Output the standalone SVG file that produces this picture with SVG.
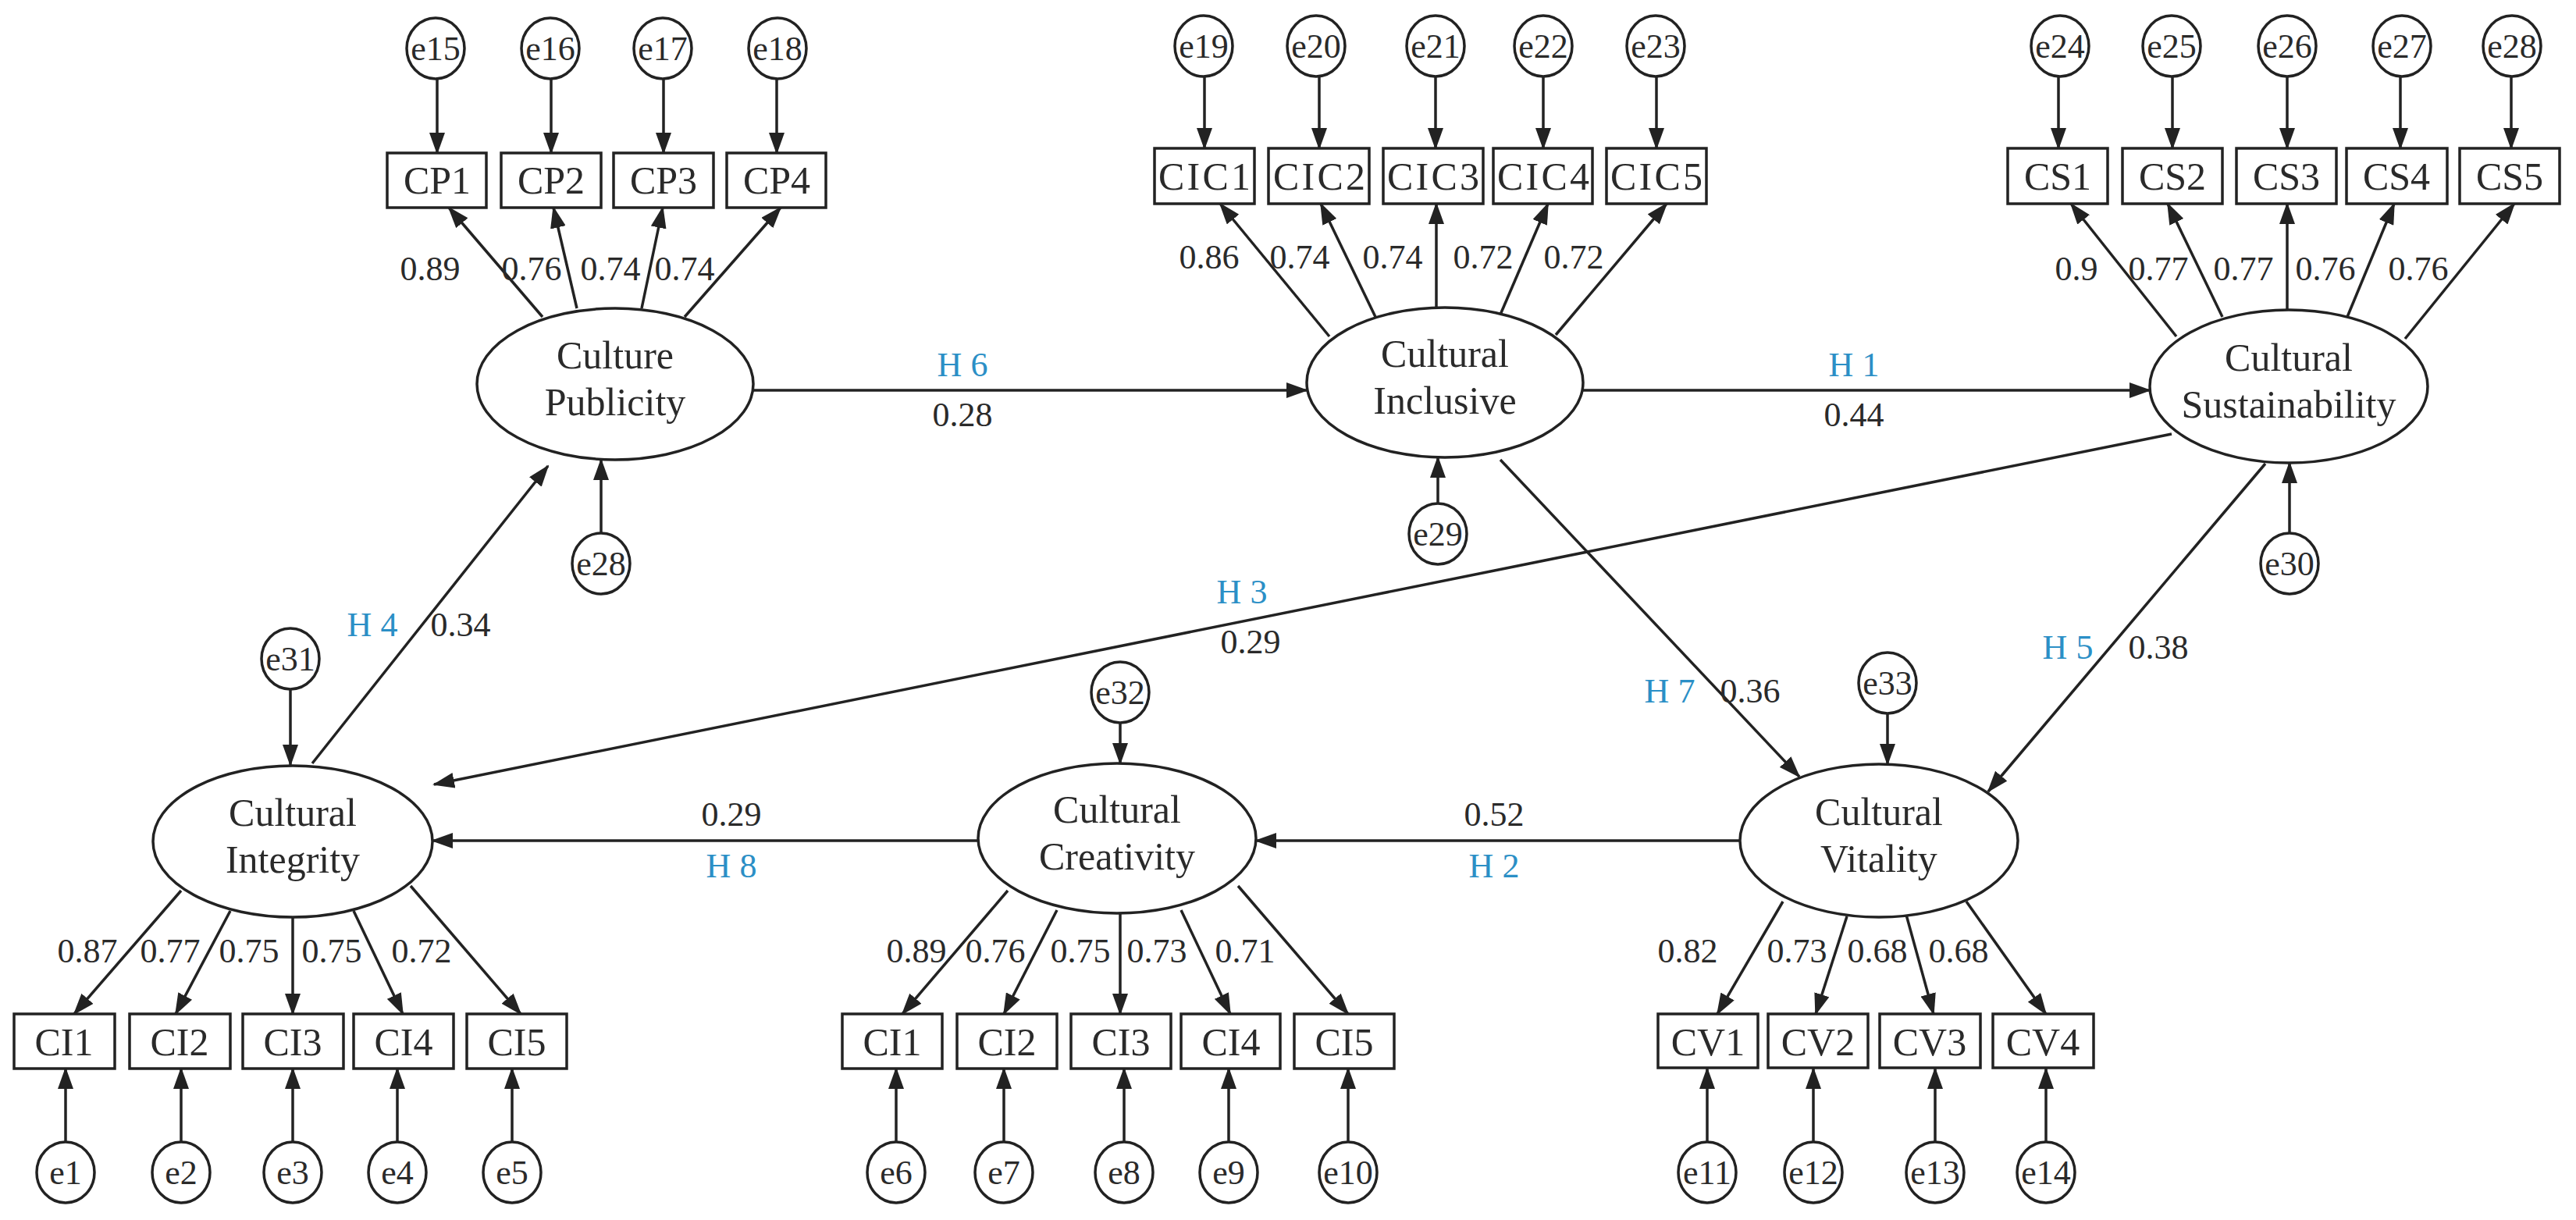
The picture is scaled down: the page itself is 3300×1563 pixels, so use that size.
<svg xmlns="http://www.w3.org/2000/svg" width="3300" height="1563" viewBox="0 0 3300 1563">
<style>
.n{fill:#fff;stroke:#222;stroke-width:3.5}
.t{font-family:"Liberation Serif",serif;font-size:50px;fill:#2a2a2a;text-anchor:middle}
.e{font-family:"Liberation Serif",serif;font-size:44px;fill:#2a2a2a;text-anchor:middle}
.v{font-family:"Liberation Serif",serif;font-size:44px;fill:#2a2a2a;text-anchor:middle}
.h{font-family:"Liberation Serif",serif;font-size:44px;fill:#2b8fc6;text-anchor:middle}
.c line{stroke:#222;stroke-width:3.5;marker-end:url(#a)}
</style>
<defs><marker id="a" markerUnits="userSpaceOnUse" markerWidth="28" markerHeight="20" refX="26" refY="10" orient="auto"><path d="M0,0 L28,10 L0,20 Z" fill="#222"/></marker></defs>
<rect width="3300" height="1563" fill="#fff"/>
<g class="c" id="connectors">
<!-- top error arrows -->
<line x1="560" y1="100" x2="560" y2="196"/><line x1="706" y1="100" x2="706" y2="196"/><line x1="850" y1="100" x2="850" y2="196"/><line x1="995" y1="100" x2="995" y2="196"/>
<line x1="1543" y1="98" x2="1543" y2="190"/><line x1="1690" y1="98" x2="1690" y2="190"/><line x1="1839" y1="98" x2="1839" y2="190"/><line x1="1977" y1="98" x2="1977" y2="190"/><line x1="2122" y1="98" x2="2122" y2="190"/>
<line x1="2637" y1="98" x2="2637" y2="190"/><line x1="2783" y1="98" x2="2783" y2="190"/><line x1="2930" y1="98" x2="2930" y2="190"/><line x1="3075" y1="98" x2="3075" y2="190"/><line x1="3217" y1="98" x2="3217" y2="190"/>
<!-- CP loadings -->
<line x1="695" y1="406" x2="575" y2="266"/><line x1="739" y1="395" x2="709" y2="266"/><line x1="822" y1="395" x2="849" y2="266"/><line x1="877" y1="406" x2="1000" y2="266"/>
<!-- CIC loadings -->
<line x1="1703" y1="431" x2="1563" y2="261"/><line x1="1763" y1="408" x2="1692" y2="261"/><line x1="1840" y1="394" x2="1840" y2="261"/><line x1="1922" y1="403" x2="1983" y2="261"/><line x1="1993" y1="429" x2="2135" y2="261"/>
<!-- CS loadings -->
<line x1="2788" y1="431" x2="2653" y2="261"/><line x1="2847" y1="406" x2="2777" y2="261"/><line x1="2930" y1="397" x2="2930" y2="261"/><line x1="3007" y1="406" x2="3067" y2="261"/><line x1="3081" y1="434" x2="3221" y2="261"/>
<!-- structural -->
<line x1="965" y1="500" x2="1674" y2="500"/>
<line x1="2028" y1="500" x2="2754" y2="500"/>
<line x1="2782" y1="556" x2="556" y2="1005"/>
<line x1="1922" y1="589" x2="2305" y2="995"/>
<line x1="2902" y1="594" x2="2547" y2="1014"/>
<line x1="400" y1="978" x2="702" y2="597"/>
<line x1="2228" y1="1077" x2="1609" y2="1077"/>
<line x1="1253" y1="1077" x2="554" y2="1077"/>
<!-- latent errors -->
<line x1="770" y1="684" x2="770" y2="589"/><line x1="1842" y1="646" x2="1842" y2="586"/><line x1="2933" y1="684" x2="2933" y2="593"/>
<line x1="372" y1="882" x2="372" y2="980"/><line x1="1435" y1="925" x2="1435" y2="978"/><line x1="2418" y1="913" x2="2418" y2="979"/>
<!-- CI loadings -->
<line x1="232" y1="1141" x2="95" y2="1299"/><line x1="295" y1="1167" x2="225" y2="1299"/><line x1="375" y1="1175" x2="375" y2="1299"/><line x1="453" y1="1167" x2="516" y2="1299"/><line x1="526" y1="1135" x2="667" y2="1299"/>
<!-- creativity loadings -->
<line x1="1291" y1="1141" x2="1156" y2="1299"/><line x1="1354" y1="1166" x2="1286" y2="1299"/><line x1="1435" y1="1170" x2="1435" y2="1299"/><line x1="1513" y1="1166" x2="1576" y2="1299"/><line x1="1586" y1="1135" x2="1727" y2="1299"/>
<!-- vitality loadings -->
<line x1="2284" y1="1155" x2="2200" y2="1299"/><line x1="2366" y1="1174" x2="2326" y2="1299"/><line x1="2442" y1="1172" x2="2477" y2="1299"/><line x1="2519" y1="1155" x2="2621" y2="1299"/>
<!-- bottom errors -->
<line x1="84" y1="1463" x2="84" y2="1369"/><line x1="232" y1="1463" x2="232" y2="1369"/><line x1="375" y1="1463" x2="375" y2="1369"/><line x1="509" y1="1463" x2="509" y2="1369"/><line x1="656" y1="1463" x2="656" y2="1369"/>
<line x1="1148" y1="1463" x2="1148" y2="1369"/><line x1="1286" y1="1463" x2="1286" y2="1369"/><line x1="1440" y1="1463" x2="1440" y2="1369"/><line x1="1574" y1="1463" x2="1574" y2="1369"/><line x1="1727" y1="1463" x2="1727" y2="1369"/>
<line x1="2187" y1="1463" x2="2187" y2="1369"/><line x1="2323" y1="1463" x2="2323" y2="1369"/><line x1="2479" y1="1463" x2="2479" y2="1369"/><line x1="2621" y1="1463" x2="2621" y2="1369"/>
</g>
<g id="labels">
<text class="v" x="551" y="359">0.89</text><text class="v" x="681" y="359">0.76</text><text class="v" x="782" y="359">0.74</text><text class="v" x="877" y="359">0.74</text>
<text class="v" x="1549" y="344">0.86</text><text class="v" x="1665" y="344">0.74</text><text class="v" x="1784" y="344">0.74</text><text class="v" x="1900" y="344">0.72</text><text class="v" x="2016" y="344">0.72</text>
<text class="v" x="2660" y="359">0.9</text><text class="v" x="2765" y="359">0.77</text><text class="v" x="2874" y="359">0.77</text><text class="v" x="2979" y="359">0.76</text><text class="v" x="3098" y="359">0.76</text>
<text class="h" x="1233" y="482">H 6</text><text class="v" x="1233" y="546">0.28</text>
<text class="h" x="2375" y="482">H 1</text><text class="v" x="2375" y="546">0.44</text>
<text class="h" x="477" y="815">H 4</text><text class="v" x="590" y="815">0.34</text>
<text class="h" x="1591" y="773">H 3</text><text class="v" x="1602" y="837">0.29</text>
<text class="h" x="2139" y="900">H 7</text><text class="v" x="2242" y="900">0.36</text>
<text class="h" x="2649" y="844">H 5</text><text class="v" x="2765" y="844">0.38</text>
<text class="v" x="937" y="1058">0.29</text><text class="h" x="937" y="1124">H 8</text>
<text class="v" x="1914" y="1058">0.52</text><text class="h" x="1914" y="1124">H 2</text>
<text class="v" x="112" y="1233">0.87</text><text class="v" x="218" y="1233">0.77</text><text class="v" x="319" y="1233">0.75</text><text class="v" x="425" y="1233">0.75</text><text class="v" x="540" y="1233">0.72</text>
<text class="v" x="1174" y="1233">0.89</text><text class="v" x="1275" y="1233">0.76</text><text class="v" x="1384" y="1233">0.75</text><text class="v" x="1482" y="1233">0.73</text><text class="v" x="1595" y="1233">0.71</text>
<text class="v" x="2162" y="1233">0.82</text><text class="v" x="2302" y="1233">0.73</text><text class="v" x="2405" y="1233">0.68</text><text class="v" x="2509" y="1233">0.68</text>
</g>
<!-- latent nodes -->
<g id="CulturePublicity"><ellipse class="n" cx="788" cy="492" rx="177" ry="97"/><text class="t" x="788" y="472">Culture</text><text class="t" x="788" y="532">Publicity</text></g>
<g id="CulturalInclusive"><ellipse class="n" cx="1851" cy="490" rx="177" ry="96"/><text class="t" x="1851" y="470">Cultural</text><text class="t" x="1851" y="530">Inclusive</text></g>
<g id="CulturalSustainability"><ellipse class="n" cx="2932" cy="495" rx="178" ry="98"/><text class="t" x="2932" y="475">Cultural</text><text class="t" x="2932" y="535">Sustainability</text></g>
<g id="CulturalIntegrity"><ellipse class="n" cx="375" cy="1078" rx="179" ry="97"/><text class="t" x="375" y="1058">Cultural</text><text class="t" x="375" y="1118">Integrity</text></g>
<g id="CulturalCreativity"><ellipse class="n" cx="1431" cy="1074" rx="178" ry="96"/><text class="t" x="1431" y="1054">Cultural</text><text class="t" x="1431" y="1114">Creativity</text></g>
<g id="CulturalVitality"><ellipse class="n" cx="2407" cy="1077" rx="178" ry="98"/><text class="t" x="2407" y="1057">Cultural</text><text class="t" x="2407" y="1117">Vitality</text></g>
<!-- observed boxes -->
<g id="CP1"><rect class="n" x="496" y="196" width="127" height="70"/><text class="t" x="560" y="248">CP1</text></g>
<g id="CP2"><rect class="n" x="642" y="196" width="128" height="70"/><text class="t" x="706" y="248">CP2</text></g>
<g id="CP3"><rect class="n" x="786" y="196" width="128" height="70"/><text class="t" x="850" y="248">CP3</text></g>
<g id="CP4"><rect class="n" x="931" y="196" width="127" height="70"/><text class="t" x="995" y="248">CP4</text></g>
<g id="CIC1"><rect class="n" x="1479" y="190" width="128" height="71"/><text class="t" x="1543" y="243" textLength="118">CIC1</text></g>
<g id="CIC2"><rect class="n" x="1625" y="190" width="129" height="71"/><text class="t" x="1690" y="243" textLength="118">CIC2</text></g>
<g id="CIC3"><rect class="n" x="1772" y="190" width="128" height="71"/><text class="t" x="1836" y="243" textLength="118">CIC3</text></g>
<g id="CIC4"><rect class="n" x="1913" y="190" width="127" height="71"/><text class="t" x="1977" y="243" textLength="118">CIC4</text></g>
<g id="CIC5"><rect class="n" x="2058" y="190" width="128" height="71"/><text class="t" x="2122" y="243" textLength="118">CIC5</text></g>
<g id="CS1"><rect class="n" x="2572" y="190" width="128" height="71"/><text class="t" x="2636" y="243">CS1</text></g>
<g id="CS2"><rect class="n" x="2719" y="190" width="128" height="71"/><text class="t" x="2783" y="243">CS2</text></g>
<g id="CS3"><rect class="n" x="2865" y="190" width="128" height="71"/><text class="t" x="2929" y="243">CS3</text></g>
<g id="CS4"><rect class="n" x="3006" y="190" width="129" height="71"/><text class="t" x="3070" y="243">CS4</text></g>
<g id="CS5"><rect class="n" x="3151" y="190" width="128" height="71"/><text class="t" x="3215" y="243">CS5</text></g>
<g id="CI1a"><rect class="n" x="18" y="1299" width="129" height="70"/><text class="t" x="82" y="1352">CI1</text></g>
<g id="CI2a"><rect class="n" x="166" y="1299" width="129" height="70"/><text class="t" x="230" y="1352">CI2</text></g>
<g id="CI3a"><rect class="n" x="311" y="1299" width="129" height="70"/><text class="t" x="375" y="1352">CI3</text></g>
<g id="CI4a"><rect class="n" x="453" y="1299" width="128" height="70"/><text class="t" x="517" y="1352">CI4</text></g>
<g id="CI5a"><rect class="n" x="598" y="1299" width="128" height="70"/><text class="t" x="662" y="1352">CI5</text></g>
<g id="CI1b"><rect class="n" x="1079" y="1299" width="128" height="70"/><text class="t" x="1143" y="1352">CI1</text></g>
<g id="CI2b"><rect class="n" x="1226" y="1299" width="128" height="70"/><text class="t" x="1290" y="1352">CI2</text></g>
<g id="CI3b"><rect class="n" x="1372" y="1299" width="128" height="70"/><text class="t" x="1436" y="1352">CI3</text></g>
<g id="CI4b"><rect class="n" x="1513" y="1299" width="127" height="70"/><text class="t" x="1577" y="1352">CI4</text></g>
<g id="CI5b"><rect class="n" x="1658" y="1299" width="128" height="70"/><text class="t" x="1722" y="1352">CI5</text></g>
<g id="CV1"><rect class="n" x="2124" y="1299" width="128" height="69"/><text class="t" x="2188" y="1352">CV1</text></g>
<g id="CV2"><rect class="n" x="2265" y="1299" width="128" height="69"/><text class="t" x="2329" y="1352">CV2</text></g>
<g id="CV3"><rect class="n" x="2408" y="1299" width="129" height="69"/><text class="t" x="2472" y="1352">CV3</text></g>
<g id="CV4"><rect class="n" x="2553" y="1299" width="129" height="69"/><text class="t" x="2617" y="1352">CV4</text></g>
<!-- error circles -->
<g id="e15"><ellipse class="n" cx="558" cy="62" rx="37" ry="39"/><text class="e" x="558" y="77">e15</text></g>
<g id="e16"><ellipse class="n" cx="705" cy="62" rx="37" ry="39"/><text class="e" x="705" y="77">e16</text></g>
<g id="e17"><ellipse class="n" cx="849" cy="62" rx="37" ry="39"/><text class="e" x="849" y="77">e17</text></g>
<g id="e18"><ellipse class="n" cx="996" cy="62" rx="37" ry="39"/><text class="e" x="996" y="77">e18</text></g>
<g id="e19"><ellipse class="n" cx="1542" cy="59" rx="37" ry="39"/><text class="e" x="1542" y="74">e19</text></g>
<g id="e20"><ellipse class="n" cx="1686" cy="59" rx="37" ry="39"/><text class="e" x="1686" y="74">e20</text></g>
<g id="e21"><ellipse class="n" cx="1839" cy="59" rx="37" ry="39"/><text class="e" x="1839" y="74">e21</text></g>
<g id="e22"><ellipse class="n" cx="1977" cy="59" rx="37" ry="39"/><text class="e" x="1977" y="74">e22</text></g>
<g id="e23"><ellipse class="n" cx="2121" cy="59" rx="37" ry="39"/><text class="e" x="2121" y="74">e23</text></g>
<g id="e24"><ellipse class="n" cx="2639" cy="59" rx="37" ry="39"/><text class="e" x="2639" y="74">e24</text></g>
<g id="e25"><ellipse class="n" cx="2782" cy="59" rx="37" ry="39"/><text class="e" x="2782" y="74">e25</text></g>
<g id="e26"><ellipse class="n" cx="2930" cy="59" rx="37" ry="39"/><text class="e" x="2930" y="74">e26</text></g>
<g id="e27"><ellipse class="n" cx="3077" cy="59" rx="37" ry="39"/><text class="e" x="3077" y="74">e27</text></g>
<g id="e28top"><ellipse class="n" cx="3218" cy="59" rx="37" ry="39"/><text class="e" x="3218" y="74">e28</text></g>
<g id="e28"><ellipse class="n" cx="770" cy="722" rx="37" ry="39"/><text class="e" x="770" y="737">e28</text></g>
<g id="e29"><ellipse class="n" cx="1842" cy="684" rx="37" ry="39"/><text class="e" x="1842" y="699">e29</text></g>
<g id="e30"><ellipse class="n" cx="2933" cy="722" rx="37" ry="39"/><text class="e" x="2933" y="737">e30</text></g>
<g id="e31"><ellipse class="n" cx="372" cy="844" rx="37" ry="39"/><text class="e" x="372" y="859">e31</text></g>
<g id="e32"><ellipse class="n" cx="1435" cy="887" rx="37" ry="39"/><text class="e" x="1435" y="902">e32</text></g>
<g id="e33"><ellipse class="n" cx="2418" cy="875" rx="37" ry="39"/><text class="e" x="2418" y="890">e33</text></g>
<g id="e1"><ellipse class="n" cx="84" cy="1502" rx="37" ry="39"/><text class="e" x="84" y="1517">e1</text></g>
<g id="e2"><ellipse class="n" cx="232" cy="1502" rx="37" ry="39"/><text class="e" x="232" y="1517">e2</text></g>
<g id="e3"><ellipse class="n" cx="375" cy="1502" rx="37" ry="39"/><text class="e" x="375" y="1517">e3</text></g>
<g id="e4"><ellipse class="n" cx="509" cy="1502" rx="37" ry="39"/><text class="e" x="509" y="1517">e4</text></g>
<g id="e5"><ellipse class="n" cx="656" cy="1502" rx="37" ry="39"/><text class="e" x="656" y="1517">e5</text></g>
<g id="e6"><ellipse class="n" cx="1148" cy="1502" rx="37" ry="39"/><text class="e" x="1148" y="1517">e6</text></g>
<g id="e7"><ellipse class="n" cx="1286" cy="1502" rx="37" ry="39"/><text class="e" x="1286" y="1517">e7</text></g>
<g id="e8"><ellipse class="n" cx="1440" cy="1502" rx="37" ry="39"/><text class="e" x="1440" y="1517">e8</text></g>
<g id="e9"><ellipse class="n" cx="1574" cy="1502" rx="37" ry="39"/><text class="e" x="1574" y="1517">e9</text></g>
<g id="e10"><ellipse class="n" cx="1727" cy="1502" rx="37" ry="39"/><text class="e" x="1727" y="1517">e10</text></g>
<g id="e11"><ellipse class="n" cx="2187" cy="1502" rx="37" ry="39"/><text class="e" x="2187" y="1517">e11</text></g>
<g id="e12"><ellipse class="n" cx="2323" cy="1502" rx="37" ry="39"/><text class="e" x="2323" y="1517">e12</text></g>
<g id="e13"><ellipse class="n" cx="2479" cy="1502" rx="37" ry="39"/><text class="e" x="2479" y="1517">e13</text></g>
<g id="e14"><ellipse class="n" cx="2621" cy="1502" rx="37" ry="39"/><text class="e" x="2621" y="1517">e14</text></g>
</svg>
